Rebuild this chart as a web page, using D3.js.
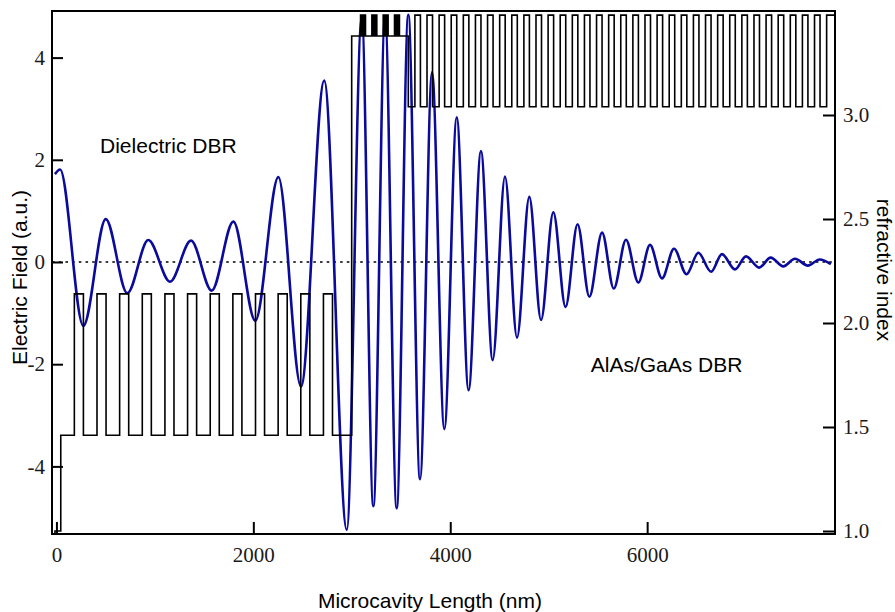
<!DOCTYPE html>
<html>
<head>
<meta charset="utf-8">
<script src="https://cdn.jsdelivr.net/npm/d3@7/dist/d3.min.js"></script>
<style>
  body { margin: 0; background: #fff; }
</style>
</head>
<body>
<svg id="chart" width="895" height="612"></svg>
<script>
// ---- Electric field: turning points of the standing wave along the structure ----
const fieldX = [-15, 37, 273, 501, 720, 933, 1154, 1367, 1577, 1797, 2020, 2254, 2484, 2720,
  2949, 3101, 3219, 3338, 3456, 3574, 3693, 3815, 3940, 4066, 4186, 4312, 4431, 4556, 4678,
  4803, 4922, 5047, 5171, 5293, 5413, 5542, 5661, 5785, 5910, 6029, 6151, 6273, 6400, 6520,
  6649, 6760, 6892, 7004, 7138, 7255, 7383, 7502, 7632, 7753, 7866];
const fieldE = [1.72, 1.81, -1.25, 0.84, -0.61, 0.43, -0.385, 0.42, -0.56, 0.79, -1.15, 1.66, -2.44, 3.55,
  -5.24, 4.8, -4.78, 4.8, -4.82, 4.84, -4.25, 3.71, -3.27, 2.83, -2.51, 2.17, -1.92, 1.67, -1.48,
  1.275, -1.135, 0.975, -0.88, 0.74, -0.68, 0.575, -0.52, 0.435, -0.40, 0.335, -0.32, 0.26, -0.24, 0.18,
  -0.19, 0.155, -0.145, 0.11, -0.11, 0.085, -0.085, 0.065, -0.07, 0.05, -0.04];

// ---- Layer stack (thickness in nm, refractive index) ----
const stackStart = -15;
const nAir = 1.0, airThickness = 59;
const nLowDiel = 1.46, bufferThickness = 138;
const nHighDiel = 2.14, dielectricPairs = 12, highDielThickness = 92, lowDielThickness = 138;
const spacerThickness = 195;
const nCavity = 3.38, cavityThickness = 575;
const wellGroupCenters = [115, 230, 345, 460];      // measured from the cavity start
const nWell = 3.48, wellsPerGroup = 3, wellThickness = 10, barrierThickness = 10;
const nAlAs = 3.04, nGaAs = 3.48, braggPairs = 35, alasThickness = 67, gaasThickness = 56;

// ---- Axes ----
const xDomain = [-45, 7908];
const eDomain = [-5.323, 4.912];
const nDomain = [0.9856, 3.5];
const xTicks = [0, 2000, 4000, 6000];
const eTicks = [-4, -2, 0, 2, 4];
const nTicks = [1.0, 1.5, 2.0, 2.5, 3.0];

const xLabel = "Microcavity Length (nm)";
const eLabel = "Electric Field (a.u.)";
const nLabel = "refractive index";
const notes = [
  { text: "Dielectric DBR", x: 443, e: 2.13 },
  { text: "AlAs/GaAs DBR", x: 5427, e: -2.157 }
];

const W = 895, H = 612;
const plot = { left: 52, right: 835, top: 11, bottom: 534 };

const svg = d3.select("#chart");
const x = d3.scaleLinear().domain(xDomain).range([plot.left, plot.right]);
const yE = d3.scaleLinear().domain(eDomain).range([plot.bottom, plot.top]);
const yN = d3.scaleLinear().domain(nDomain).range([plot.bottom, plot.top]);

// Build the refractive-index steps: each entry is [layer start, index]
const layers = [];
let pos = stackStart;
function addLayer(n, d) { layers.push([pos, n]); pos += d; }
addLayer(nAir, airThickness);
addLayer(nLowDiel, bufferThickness);
for (let i = 0; i < dielectricPairs; i++) {
  addLayer(nHighDiel, highDielThickness);
  addLayer(nLowDiel, i === dielectricPairs - 1 ? spacerThickness : lowDielThickness);
}
const groupWidth = wellsPerGroup * wellThickness + (wellsPerGroup - 1) * barrierThickness;
let cpos = 0;
wellGroupCenters.forEach(c => {
  const g0 = c - groupWidth / 2;
  addLayer(nCavity, g0 - cpos);
  for (let w = 0; w < wellsPerGroup; w++) {
    addLayer(nWell, wellThickness);
    if (w < wellsPerGroup - 1) addLayer(nCavity, barrierThickness);
  }
  cpos = g0 + groupWidth;
});
addLayer(nCavity, cavityThickness - cpos);
for (let i = 0; i < braggPairs; i++) {
  addLayer(nAlAs, alasThickness);
  addLayer(nGaAs, gaasThickness);
}
// GaAs substrate continues to the end of the axis
layers.push([xDomain[1], nGaAs]);
const profile = [[stackStart, nDomain[0]]].concat(layers);

svg.append("defs").append("clipPath").attr("id", "plotClip")
  .append("rect")
  .attr("x", plot.left).attr("y", plot.top)
  .attr("width", plot.right - plot.left).attr("height", plot.bottom - plot.top);

const g = svg.append("g").attr("clip-path", "url(#plotClip)");

// zero reference line
g.append("line")
  .attr("x1", plot.left).attr("x2", plot.right)
  .attr("y1", yE(0)).attr("y2", yE(0))
  .attr("stroke", "#000").attr("stroke-width", 1.6)
  .attr("stroke-dasharray", "2.6,4.1");

// electric field
const fieldPts = fieldX.map((v, i) => [v, fieldE[i]]);
g.append("path")
  .attr("d", d3.line().x(d => x(d[0])).y(d => yE(d[1])).curve(d3.curveMonotoneX)(fieldPts))
  .attr("fill", "none").attr("stroke", "#0a0a9c").attr("stroke-width", 2.6)
  .attr("stroke-linejoin", "round");

// refractive index profile
g.append("path")
  .attr("d", d3.line().x(d => x(d[0])).y(d => yN(d[1])).curve(d3.curveStepAfter)(profile))
  .attr("fill", "none").attr("stroke", "#000").attr("stroke-width", 1.6);

// frame
svg.append("rect")
  .attr("x", plot.left).attr("y", plot.top)
  .attr("width", plot.right - plot.left).attr("height", plot.bottom - plot.top)
  .attr("fill", "none").attr("stroke", "#000").attr("stroke-width", 2);

const tickFont = "'Liberation Serif', 'Times New Roman', serif";
const labelFont = "'Liberation Sans', Arial, Helvetica, sans-serif";

function styleAxis(sel) {
  sel.select(".domain").remove();
  sel.selectAll(".tick line").attr("stroke", "#000").attr("stroke-width", 2);
  sel.selectAll(".tick text").attr("fill", "#1a1a1a")
    .style("font-family", tickFont).style("font-size", "21px");
}

// plain hyphen for negative numbers
const intFmt = d => String(d);

svg.append("g").attr("transform", `translate(0,${plot.bottom})`)
  .call(d3.axisBottom(x).tickValues(xTicks).tickFormat(intFmt)
    .tickSizeInner(-12).tickSizeOuter(0).tickPadding(13))
  .call(styleAxis);

svg.append("g").attr("transform", `translate(${plot.left},0)`)
  .call(d3.axisLeft(yE).tickValues(eTicks).tickFormat(intFmt)
    .tickSizeInner(-11).tickSizeOuter(0).tickPadding(7))
  .call(styleAxis);

svg.append("g").attr("transform", `translate(${plot.right},0)`)
  .call(d3.axisRight(yN).tickValues(nTicks).tickFormat(d => d.toFixed(1))
    .tickSizeInner(-12).tickSizeOuter(0).tickPadding(8))
  .call(styleAxis);

// axis titles
svg.append("text")
  .attr("x", 430).attr("y", 608)
  .attr("text-anchor", "middle")
  .style("font-family", labelFont).style("font-size", "21px")
  .text(xLabel);

svg.append("text")
  .attr("transform", `translate(27,${(plot.top + plot.bottom) / 2 + 5}) rotate(-90)`)
  .attr("text-anchor", "middle")
  .style("font-family", labelFont).style("font-size", "21px")
  .text(eLabel);

svg.append("text")
  .attr("transform", `translate(877,270) rotate(90)`)
  .attr("text-anchor", "middle")
  .style("font-family", labelFont).style("font-size", "21px")
  .text(nLabel);

// region annotations
notes.forEach(a => {
  svg.append("text")
    .attr("x", x(a.x)).attr("y", yE(a.e))
    .style("font-family", labelFont).style("font-size", "21px")
    .text(a.text);
});
</script>
</body>
</html>
